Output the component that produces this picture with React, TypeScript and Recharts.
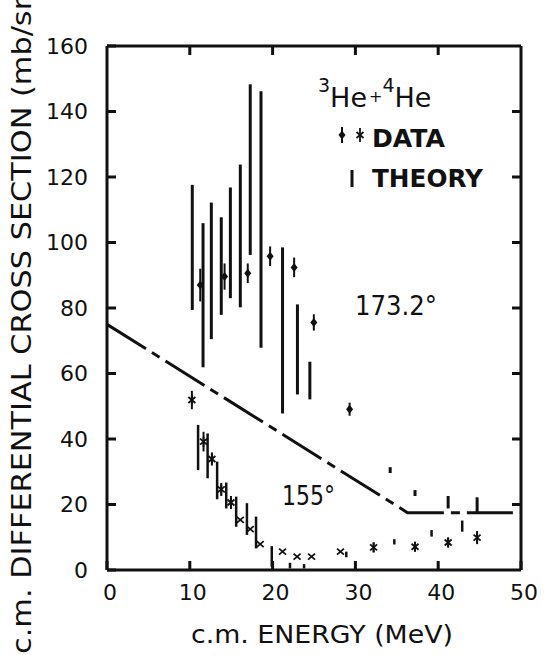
import React from 'react';
import { ComposedChart, Scatter, Line, XAxis, YAxis, ErrorBar } from 'recharts';

const xTicks = [0, 10, 20, 30, 40, 50];
const yTicks = [0, 20, 40, 60, 80, 100, 120, 140, 160];
const topTicks = [10, 20, 30, 40];
const rightTicks = [20, 40, 60, 80, 100, 120, 140];

// Theory bands, 173.2 deg (energy, lower, upper)
const theory173E = [10.3, 11.6, 12.6, 13.8, 14.9, 16.1, 17.3, 18.6, 21.2, 23.0, 24.5, 34.2, 37.2, 41.2, 44.7];
const theory173Low = [79.4, 61.9, 70.5, 77.9, 83.0, 80.2, 96.2, 67.9, 47.8, 53.6, 52.1, 29.6, 22.6, 18.8, 17.3];
const theory173High = [117.6, 105.9, 112.2, 107.7, 116.8, 123.8, 148.3, 146.2, 98.5, 81.1, 63.6, 31.4, 24.4, 22.6, 22.2];

// Theory bands, 155 deg
const theory155E = [11.0, 12.15, 13.3, 14.4, 15.6, 16.9, 18.0, 19.9, 22.1, 23.8, 28.9, 34.7, 39.2, 42.9];
const theory155Low = [30.5, 28.0, 21.6, 18.8, 13.2, 10.7, 6.6, 1.0, 0.5, 0.5, 3.9, 7.8, 10.2, 11.7];
const theory155High = [44.3, 41.7, 33.1, 26.7, 22.4, 20.4, 16.3, 7.3, 2.2, 1.8, 5.6, 9.4, 12.2, 15.1];

// Data, 173.2 deg
const data173E = [11.26, 14.2, 17.0, 19.7, 22.6, 24.98, 29.3];
const data173Y = [87.0, 89.6, 90.6, 95.8, 92.4, 75.6, 49.1];
const data173Err = [5, 4, 3, 3, 3, 2.5, 2];

// Data, 155 deg (asterisks)
const data155StarE = [10.25, 11.66, 12.67, 13.8, 14.97, 32.2, 37.2, 41.2, 44.7];
const data155StarY = [51.9, 39.2, 33.9, 24.6, 20.6, 6.9, 7.1, 8.4, 9.9];
const data155StarErr = [2.8, 3, 2, 2, 2, 1.5, 1.5, 1.5, 2];

// Data, 155 deg (crosses)
const data155XE = [16.1, 17.3, 18.5, 21.2, 22.96, 24.7, 28.2];
const data155XY = [15.3, 12.5, 7.9, 5.6, 4.1, 4.1, 5.6];

// Dash-dot reference curve
const curveE = [0, 36.3, 50];
const curveY = [75, 17.5, 17.5];

const theory173 = theory173E.map((x, i) => ({
  x,
  y: (theory173Low[i] + theory173High[i]) / 2,
  err: (theory173High[i] - theory173Low[i]) / 2,
}));
const theory155 = theory155E.map((x, i) => ({
  x,
  y: (theory155Low[i] + theory155High[i]) / 2,
  err: (theory155High[i] - theory155Low[i]) / 2,
}));
const data173 = data173E.map((x, i) => ({ x, y: data173Y[i], err: data173Err[i] }));
const data155Star = data155StarE.map((x, i) => ({ x, y: data155StarY[i], err: data155StarErr[i] }));
const data155X = data155XE.map((x, i) => ({ x, y: data155XY[i] }));
const curve = curveE.map((x, i) => ({ x, y: curveY[i] }));

const INK = '#111';
const FONT = 'DejaVu Sans';
const TICK_LEN = 9;
const TICK_W = 3;
const X_LABEL_GAP = 13;
const Y_LABEL_GAP = 19;

const Empty = () => <g />;
const Diamond = (p: any) => {
  const { cx, cy } = p;
  return <path d={`M${cx},${cy - 4.5} L${cx + 3.5},${cy} L${cx},${cy + 4.5} L${cx - 3.5},${cy} Z`} fill={INK} />;
};
const Star = (p: any) => {
  const { cx, cy } = p;
  return (
    <g stroke={INK} strokeWidth={1.8}>
      <line x1={cx - 3.5} y1={cy - 3} x2={cx + 3.5} y2={cy + 3} />
      <line x1={cx + 3.5} y1={cy - 3} x2={cx - 3.5} y2={cy + 3} />
      <line x1={cx} y1={cy - 5} x2={cx} y2={cy + 5} />
    </g>
  );
};
const Cross = (p: any) => {
  const { cx, cy } = p;
  return (
    <g stroke={INK} strokeWidth={1.8}>
      <line x1={cx - 3.5} y1={cy - 3} x2={cx + 3.5} y2={cy + 3} />
      <line x1={cx + 3.5} y1={cy - 3} x2={cx - 3.5} y2={cy + 3} />
    </g>
  );
};

const BottomTick = (p: any) => {
  const { x, y, payload } = p;
  const axisY = y - X_LABEL_GAP;
  return (
    <g>
      <line x1={x} y1={axisY} x2={x} y2={axisY - TICK_LEN} stroke={INK} strokeWidth={TICK_W} />
      <text x={x + 3} y={y} dy="0.75em" textAnchor="middle" fontSize={22} fontFamily={FONT} fill={INK}>
        {payload.value}
      </text>
    </g>
  );
};
const LeftTick = (p: any) => {
  const { x, y, payload } = p;
  const axisX = x + Y_LABEL_GAP;
  return (
    <g>
      <line x1={axisX} y1={y} x2={axisX + TICK_LEN} y2={y} stroke={INK} strokeWidth={TICK_W} />
      <text x={x} y={y} dy="0.36em" textAnchor="end" fontSize={22} fontFamily={FONT} fill={INK}>
        {payload.value}
      </text>
    </g>
  );
};
const TopTick = (p: any) => {
  const { x, y } = p;
  return <line x1={x} y1={y} x2={x} y2={y + TICK_LEN} stroke={INK} strokeWidth={TICK_W} />;
};
const RightTick = (p: any) => {
  const { x, y } = p;
  return <line x1={x} y1={y} x2={x - TICK_LEN} y2={y} stroke={INK} strokeWidth={TICK_W} />;
};

export default function App() {
  return (
    <div style={{ position: 'absolute', left: 0, top: 0, width: 546, height: 655, background: '#fff' }}>
      <ComposedChart width={546} height={655} margin={{ top: 45, right: 24, bottom: 0, left: 0 }}>
        <XAxis
          xAxisId="b"
          type="number"
          dataKey="x"
          domain={[0, 50]}
          allowDataOverflow
          ticks={xTicks}
          interval={0}
          height={85}
          tickSize={0}
          tickMargin={X_LABEL_GAP}
          tickLine={false}
          tick={BottomTick}
          axisLine={{ stroke: INK, strokeWidth: 3 }}
        />
        <XAxis
          xAxisId="t"
          orientation="top"
          type="number"
          dataKey="x"
          domain={[0, 50]}
          allowDataOverflow
          ticks={topTicks}
          interval={0}
          height={1}
          tickSize={0}
          tickMargin={0}
          tickLine={false}
          tick={TopTick}
          axisLine={{ stroke: INK, strokeWidth: 3 }}
        />
        <YAxis
          yAxisId="l"
          type="number"
          dataKey="y"
          domain={[0, 160]}
          allowDataOverflow
          ticks={yTicks}
          interval={0}
          width={107}
          tickSize={0}
          tickMargin={Y_LABEL_GAP}
          tickLine={false}
          tick={LeftTick}
          axisLine={{ stroke: INK, strokeWidth: 3 }}
        />
        <YAxis
          yAxisId="r"
          orientation="right"
          type="number"
          dataKey="y"
          domain={[0, 160]}
          allowDataOverflow
          ticks={rightTicks}
          interval={0}
          width={1}
          tickSize={0}
          tickMargin={0}
          tickLine={false}
          tick={RightTick}
          axisLine={{ stroke: INK, strokeWidth: 3 }}
        />
        <Scatter xAxisId="t" yAxisId="r" data={curve} shape={Empty} isAnimationActive={false} />
        <Line
          xAxisId="b"
          yAxisId="l"
          data={curve}
          dataKey="y"
          type="linear"
          stroke={INK}
          strokeWidth={3}
          strokeDasharray="46 7 9 7"
          dot={false}
          activeDot={false}
          isAnimationActive={false}
        />
        <Scatter xAxisId="b" yAxisId="l" data={theory173} shape={Empty} isAnimationActive={false}>
          <ErrorBar dataKey="err" direction="y" width={0} stroke={INK} strokeWidth={3} />
        </Scatter>
        <Scatter xAxisId="b" yAxisId="l" data={theory155} shape={Empty} isAnimationActive={false}>
          <ErrorBar dataKey="err" direction="y" width={0} stroke={INK} strokeWidth={2.5} />
        </Scatter>
        <Scatter xAxisId="b" yAxisId="l" data={data173} shape={Diamond} isAnimationActive={false}>
          <ErrorBar dataKey="err" direction="y" width={0} stroke={INK} strokeWidth={2} />
        </Scatter>
        <Scatter xAxisId="b" yAxisId="l" data={data155Star} shape={Star} isAnimationActive={false}>
          <ErrorBar dataKey="err" direction="y" width={0} stroke={INK} strokeWidth={2} />
        </Scatter>
        <Scatter xAxisId="b" yAxisId="l" data={data155X} shape={Cross} isAnimationActive={false} />
      </ComposedChart>
      <svg
        width={546}
        height={655}
        style={{ position: 'absolute', left: 0, top: 0, pointerEvents: 'none' }}
        fontFamily={FONT}
        fill={INK}
      >
        <text
          transform="translate(31,320) rotate(-90)"
          textAnchor="middle"
          fontSize={26}
          textLength={668}
          lengthAdjust="spacingAndGlyphs"
        >
          c.m. DIFFERENTIAL CROSS SECTION (mb/sr)
        </text>
        <text x={322} y={643} textAnchor="middle" fontSize={24} textLength={262} lengthAdjust="spacingAndGlyphs">
          c.m. ENERGY (MeV)
        </text>
        <text x={318} y={107} fontSize={27}>
          <tspan fontSize={19} dy={-15}>3</tspan>
          <tspan dy={15}>He</tspan>
          <tspan fontSize={16} dx={2} dy={-5}>+</tspan>
          <tspan fontSize={19} dy={-10}>4</tspan>
          <tspan dy={15}>He</tspan>
        </text>
        <path d="M342,130.5 L345.5,135 L342,139.5 L338.5,135 Z" fill={INK} />
        <line x1={342} y1={127} x2={342} y2={143} stroke={INK} strokeWidth={2} />
        <g stroke={INK} strokeWidth={1.8}>
          <line x1={356.5} y1={132} x2={363.5} y2={138} />
          <line x1={363.5} y1={132} x2={356.5} y2={138} />
          <line x1={360} y1={128} x2={360} y2={142} />
        </g>
        <text x={372} y={147} fontSize={25} fontWeight="bold" textLength={73} lengthAdjust="spacingAndGlyphs">
          DATA
        </text>
        <line x1={352} y1={170} x2={352} y2={187} stroke={INK} strokeWidth={3} />
        <text x={372} y={187} fontSize={25} fontWeight="bold" textLength={111} lengthAdjust="spacingAndGlyphs">
          THEORY
        </text>
        <text x={355} y={315} fontSize={27} textLength={82} lengthAdjust="spacingAndGlyphs">
          173.2°
        </text>
        <text x={282} y={505} fontSize={27} textLength={53} lengthAdjust="spacingAndGlyphs">
          155°
        </text>
      </svg>
    </div>
  );
}
